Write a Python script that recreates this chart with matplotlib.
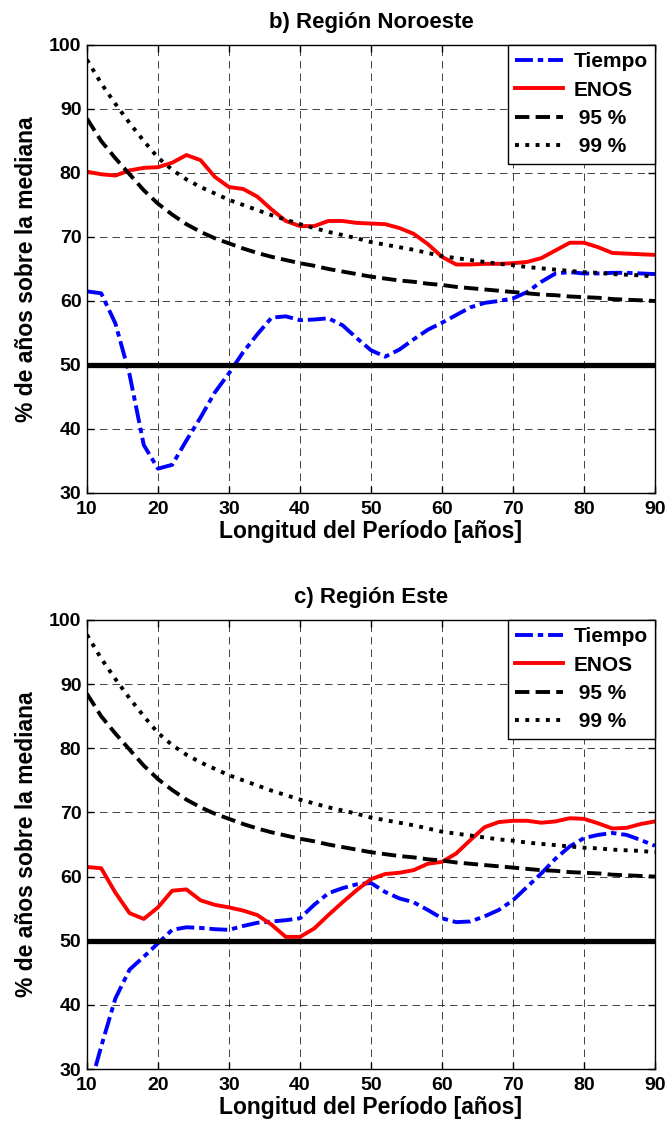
import numpy as np
import matplotlib.pyplot as plt

plt.rcParams['font.family'] = ['Liberation Sans', 'DejaVu Sans']
plt.rcParams['font.weight'] = 'bold'

# period length [years], one value every 2 years
periodo = np.arange(10, 91, 2)

# significance thresholds (same for both regions)
umbral_95 = [88.5, 85.0, 82.3, 79.8, 77.3, 75.2, 73.5, 72.0, 70.8, 69.8,
             69.0, 68.2, 67.5, 66.9, 66.4, 65.9, 65.5, 65.0, 64.6, 64.2,
             63.8, 63.5, 63.2, 63.0, 62.7, 62.5, 62.2, 62.0, 61.8, 61.6,
             61.4, 61.2, 61.0, 60.9, 60.7, 60.6, 60.5, 60.3, 60.2, 60.1, 60.0]
umbral_99 = [97.7, 94.0, 90.8, 87.8, 85.0, 82.4, 80.5, 79.0, 77.8, 76.8,
             75.8, 75.0, 74.2, 73.4, 72.7, 72.0, 71.4, 70.8, 70.3, 69.8,
             69.2, 68.8, 68.4, 68.0, 67.5, 67.0, 66.7, 66.4, 66.1, 65.8,
             65.6, 65.3, 65.1, 64.9, 64.7, 64.5, 64.4, 64.2, 64.1, 64.0, 63.8]

# b) Region Noroeste
noroeste_tiempo = [61.5, 61.2, 56.5, 48.5, 37.5, 33.8, 34.4, 38.2, 41.8, 45.7,
                   48.7, 52.0, 54.8, 57.4, 57.6, 57.0, 57.1, 57.3, 56.2, 54.2,
                   52.3, 51.3, 52.4, 54.0, 55.5, 56.6, 57.8, 59.0, 59.7, 60.0,
                   60.4, 61.4, 63.0, 64.3, 64.5, 64.3, 64.3, 64.4, 64.4, 64.3, 64.2]
noroeste_enos = [80.2, 79.8, 79.6, 80.4, 80.8, 80.9, 81.6, 82.8, 82.0, 79.4,
                 77.8, 77.5, 76.3, 74.3, 72.5, 71.7, 71.7, 72.5, 72.5, 72.2,
                 72.1, 72.0, 71.4, 70.5, 68.9, 66.9, 65.7, 65.7, 65.8, 65.8,
                 65.9, 66.1, 66.7, 67.9, 69.1, 69.1, 68.4, 67.5, 67.4, 67.3, 67.2]

# c) Region Este
este_tiempo = [25.5, 33.5, 41.0, 45.5, 47.5, 49.6, 51.7, 52.1, 52.0, 51.8,
               51.7, 52.3, 52.8, 53.0, 53.2, 53.5, 55.6, 57.4, 58.2, 58.8,
               59.0, 57.6, 56.6, 56.0, 54.8, 53.5, 52.9, 53.0, 53.8, 54.8,
               56.3, 58.4, 60.5, 62.8, 64.7, 66.0, 66.5, 66.8, 66.5, 65.7, 64.8]
este_enos = [61.5, 61.3, 57.5, 54.3, 53.4, 55.2, 57.8, 58.0, 56.3, 55.6,
             55.2, 54.7, 54.0, 52.5, 50.6, 50.6, 51.9, 54.0, 56.0, 57.9,
             59.6, 60.4, 60.6, 61.0, 62.0, 62.3, 63.6, 65.7, 67.7, 68.5,
             68.7, 68.7, 68.4, 68.6, 69.1, 69.0, 68.3, 67.5, 67.6, 68.2, 68.6]

MEDIANA = 50
LW = 2.8
DASHDOT = (0, (4.6, 1.25, 1.4, 1.25))


def plot_region(ax, tiempo, enos, titulo):
    ax.plot(periodo, tiempo, color='#0000ff', ls=DASHDOT, lw=LW, label='Tiempo')
    ax.plot(periodo, enos, color='#ff0000', ls='-', lw=LW, label='ENOS')
    ax.plot(periodo, umbral_95, color='k', ls='--', lw=LW, label=' 95 %')
    ax.plot(periodo, umbral_99, color='k', ls=':', lw=LW, label=' 99 %')
    ax.axhline(MEDIANA, color='k', lw=3.8)

    ax.set_xlim(10, 90)
    ax.set_ylim(30, 100)
    ax.set_xticks(range(10, 91, 10))
    ax.set_yticks(range(30, 101, 10))
    ax.tick_params(direction='in', top=True, right=True, length=5,
                   width=1, labelsize=14)
    ax.tick_params(axis='x', pad=6)
    ax.tick_params(axis='y', pad=4)
    ax.grid(True, color='#222222', ls=(0, (9, 6)), lw=0.6)
    for s in ax.spines.values():
        s.set_linewidth(1.0)

    ax.set_title(titulo, fontsize=16, fontweight='bold', pad=12)
    ax.set_xlabel('Longitud del Período [años]', fontsize=16.5,
                  fontweight='bold', labelpad=1)
    ax.set_ylabel('% de años sobre la mediana', fontsize=16.5,
                  fontweight='bold', labelpad=8)

    leg = ax.legend(loc='upper right', fontsize=15, handlelength=2.3,
                    borderaxespad=0, fancybox=False, framealpha=1,
                    borderpad=0.35, labelspacing=0.45, handletextpad=0.5)
    leg.get_frame().set_edgecolor('k')
    leg.get_frame().set_linewidth(1.0)


fig = plt.figure(figsize=(6.69, 11.24), dpi=100)
ax1 = fig.add_axes([0.130, 0.5614, 0.849, 0.3986])
ax2 = fig.add_axes([0.130, 0.0489, 0.849, 0.3995])

plot_region(ax1, noroeste_tiempo, noroeste_enos, 'b) Región Noroeste')
plot_region(ax2, este_tiempo, este_enos, 'c) Región Este')

fig.savefig('out.png', dpi=100)
